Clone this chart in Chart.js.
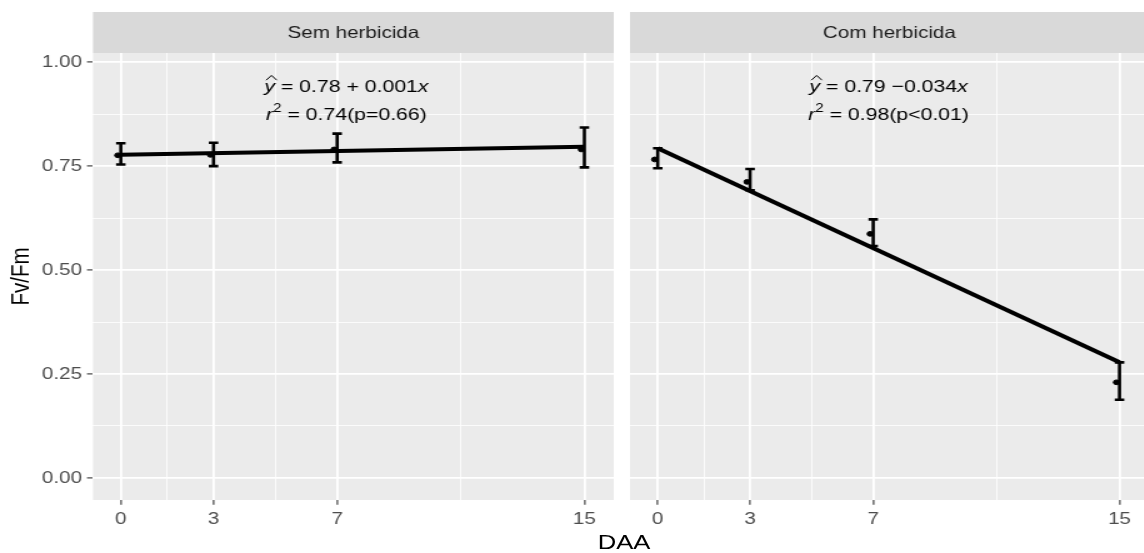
<!DOCTYPE html>
<html>
<head>
<meta charset="utf-8">
<script src="https://cdn.jsdelivr.net/npm/chart.js@4.4.1/dist/chart.umd.min.js"></script>
<style>
  html, body { margin: 0; padding: 0; background: #fff; overflow: hidden; }
  #wrap { position: relative; width: 1144px; height: 553px; overflow: hidden; }
  canvas { position: absolute; top: 0; }
  #xtitle { position: absolute; top: 530px; left: 524px; width: 200px; text-align: center;
            font: 20.5px 'Liberation Sans', Arial, sans-serif; color: #000;
            transform: scaleX(1.25); }
</style>
</head>
<body>
<div id="wrap">
  <canvas id="left" width="496" height="553" style="left:0;width:620px;height:553px"></canvas>
  <canvas id="right" width="428" height="553" style="left:620px;width:535px;height:553px"></canvas>
  <div id="xtitle">DAA</div>
</div>
<script>
// Data
const days = [0, 3, 7, 15];
const panelNames = ['Sem herbicida', 'Com herbicida'];

const semMean = [0.776, 0.777, 0.790, 0.790];
const semLow  = [0.754, 0.750, 0.759, 0.747];
const semHigh = [0.805, 0.806, 0.828, 0.843];

const comMean = [0.766, 0.712, 0.587, 0.230];
const comLow  = [0.745, 0.692, 0.558, 0.188];
const comHigh = [0.793, 0.743, 0.622, 0.278];

// fitted regression (intercept, slope) per panel
const fitIntercept = [0.777, 0.793];
const fitSlope = [0.0013, -0.0343];
const eqText = ['0.78 + 0.001', '0.79 \u22120.034'];
const r2Text = ['0.74(p=0.66)', '0.98(p<0.01)'];

const yTicks = [0, 0.25, 0.5, 0.75, 1];
const yMinor = [0.125, 0.375, 0.625, 0.875];
const xTicks = [0, 3, 7, 15];
const xMinor = [1.5, 5, 11];

const FONT = "'Liberation Sans', Arial, sans-serif";
// the figure is stretched 1.25x horizontally: canvases are drawn narrow and widened by CSS
const SX = 1.25;

// Panel background + facet strip
const panelBg = {
  id: 'panelBg',
  beforeDraw(chart, args, opts) {
    const { ctx, chartArea: a } = chart;
    ctx.save();
    ctx.fillStyle = '#ebebeb';
    ctx.fillRect(a.left, a.top, a.right - a.left, a.bottom - a.top);
    ctx.fillStyle = '#d9d9d9';
    ctx.fillRect(a.left, 12, a.right - a.left, a.top - 12);
    ctx.fillStyle = '#1a1a1a';
    ctx.font = '16.5px ' + FONT;
    ctx.textAlign = 'center';
    ctx.textBaseline = 'middle';
    ctx.fillText(opts.label, (a.left + a.right) / 2, 33);
    ctx.restore();
  }
};

// vertical error bars with caps
const errBars = {
  id: 'errBars',
  afterDatasetsDraw(chart, args, opts) {
    const { ctx } = chart;
    const sx = chart.scales.x, sy = chart.scales.y;
    const cap = 3.8;
    ctx.save();
    ctx.strokeStyle = '#000';
    ctx.lineWidth = 2.6;
    days.forEach((d, j) => {
      const x = sx.getPixelForValue(d);
      const y0 = sy.getPixelForValue(opts.low[j]);
      const y1 = sy.getPixelForValue(opts.high[j]);
      ctx.beginPath();
      ctx.moveTo(x, y0); ctx.lineTo(x, y1);
      ctx.moveTo(x - cap, y0); ctx.lineTo(x + cap, y0);
      ctx.moveTo(x - cap, y1); ctx.lineTo(x + cap, y1);
      ctx.stroke();
    });
    ctx.restore();
  }
};

// regression equation annotation
function drawParts(ctx, cx, cy, parts, size) {
  const fontFor = p => (p.it ? 'italic ' : '') + (p.sup ? Math.round(size * 0.7) : size) + 'px ' + FONT;
  let total = 0;
  parts.forEach(p => { ctx.font = fontFor(p); p.w = ctx.measureText(p.t).width; total += p.w; });
  let x = cx - total / 2;
  parts.forEach(p => {
    ctx.font = fontFor(p);
    ctx.fillText(p.t, x, p.sup ? cy - size * 0.42 : cy);
    if (p.hat) {
      ctx.beginPath();
      ctx.lineWidth = 1;
      ctx.moveTo(x + 1.5, cy - size * 0.7);
      ctx.lineTo(x + p.w / 2 + 1.5, cy - size * 0.98);
      ctx.lineTo(x + p.w + 1.5, cy - size * 0.7);
      ctx.stroke();
    }
    x += p.w;
  });
}

const eqLabel = {
  id: 'eqLabel',
  afterDraw(chart, args, opts) {
    const { ctx } = chart;
    const sx = chart.scales.x, sy = chart.scales.y;
    const i = opts.index;
    ctx.save();
    ctx.fillStyle = '#000';
    ctx.strokeStyle = '#000';
    ctx.textBaseline = 'alphabetic';
    const cx = sx.getPixelForValue(opts.x);
    drawParts(ctx, cx, sy.getPixelForValue(0.928), [
      { t: 'y', it: true, hat: true }, { t: ' = ' + eqText[i] }, { t: 'x', it: true }
    ], 17);
    drawParts(ctx, cx, sy.getPixelForValue(0.862), [
      { t: 'r', it: true }, { t: '2', sup: true }, { t: ' = ' + r2Text[i] }
    ], 17);
    if (opts.yTitle) {
      ctx.translate(22 / SX, (chart.chartArea.top + chart.chartArea.bottom) / 2);
      ctx.rotate(-Math.PI / 2);
      ctx.font = '20.5px ' + FONT;
      ctx.textAlign = 'center';
      ctx.textBaseline = 'middle';
      ctx.fillText('Fv/Fm', 0, 0);
    }
    ctx.restore();
  }
};

function makePanel(canvasId, i, mean, low, high, showY, eqX) {
  const isMajorY = v => yTicks.some(t => Math.abs(t - v) < 1e-6);
  const isMajorX = v => xTicks.includes(v);
  const fit = x => fitIntercept[i] + fitSlope[i] * x;
  return new Chart(document.getElementById(canvasId), {
    type: 'scatter',
    data: {
      datasets: [
        {
          type: 'line',
          data: [{ x: days[0], y: fit(days[0]) }, { x: days[days.length - 1], y: fit(days[days.length - 1]) }],
          borderColor: '#000', borderWidth: 4, pointRadius: 0, fill: false
        },
        {
          data: days.map((d, j) => ({ x: d - 0.1, y: mean[j] })),
          backgroundColor: '#000', borderColor: '#000', pointRadius: 2.4
        }
      ]
    },
    options: {
      responsive: false,
      animation: false,
      events: [],
      layout: { padding: { top: 53, right: showY ? 2 / SX : 0, left: 0, bottom: 0 } },
      plugins: {
        legend: { display: false },
        tooltip: { enabled: false },
        panelBg: { label: panelNames[i] },
        errBars: { low, high },
        eqLabel: { index: i, yTitle: showY, x: eqX }
      },
      scales: {
        x: {
          type: 'linear', min: -0.9, max: 15.95,
          afterBuildTicks: s => { s.ticks = xTicks.concat(xMinor).sort((a, b) => a - b).map(v => ({ value: v })); },
          afterFit: s => { s.height = 53; },
          border: { display: false },
          grid: {
            color: '#ffffff',
            lineWidth: c => (c.tick && isMajorX(c.tick.value)) ? 1.8 : 0.8,
            tickColor: c => (c.tick && isMajorX(c.tick.value)) ? '#333333' : 'rgba(0,0,0,0)',
            tickLength: 4.8, tickWidth: 1.1
          },
          ticks: {
            autoSkip: false, maxRotation: 0, padding: 4.5,
            color: '#4d4d4d', font: { family: FONT, size: 16.5 },
            callback: v => isMajorX(v) ? String(v) : ''
          }
        },
        y: {
          type: 'linear', min: -0.053, max: 1.022,
          afterBuildTicks: s => { s.ticks = yTicks.concat(yMinor).sort((a, b) => a - b).map(v => ({ value: v })); },
          afterFit: s => { s.width = showY ? 93 / SX : 10 / SX; },
          border: { display: false },
          grid: {
            color: '#ffffff',
            lineWidth: c => (c.tick && isMajorY(c.tick.value)) ? 1.8 : 0.8,
            tickColor: c => (c.tick && isMajorY(c.tick.value)) ? '#333333' : 'rgba(0,0,0,0)',
            drawTicks: showY, tickLength: 4.8, tickWidth: 1.1
          },
          ticks: {
            display: showY, autoSkip: false, padding: 4,
            color: '#4d4d4d', font: { family: FONT, size: 16.5 },
            callback: v => isMajorY(v) ? v.toFixed(2) : ''
          }
        }
      }
    },
    plugins: [panelBg, errBars, eqLabel]
  });
}

makePanel('left', 0, semMean, semLow, semHigh, true, 7.3);
makePanel('right', 1, comMean, comLow, comHigh, false, 7.5);
</script>
</body>
</html>
